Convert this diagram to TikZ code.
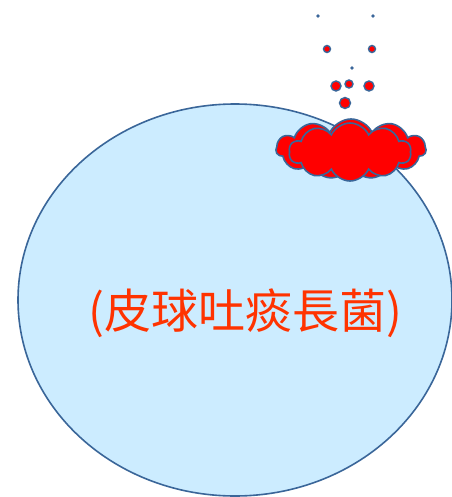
\documentclass[tikz,border=0pt]{standalone}
\usepackage{fontspec}
\newfontfamily\cjk{Noto Sans CJK TC}
\usetikzlibrary{shapes.symbols}
\definecolor{rimblue}{HTML}{3A6699}
\definecolor{ballfill}{HTML}{CCECFF}
\definecolor{labelred}{HTML}{FF3300}
\tikzset{
  rim/.style={draw=rimblue, line width=1.6pt},
  puff/.style={cloud, cloud puffs=11, cloud puff arc=130, cloud ignores aspect,
    inner sep=0pt, draw=rimblue, line width=1.6pt, fill=red},
  drop/.style={circle, inner sep=0pt, draw=rimblue, line width=1.4pt, fill=red},
  speck/.style={circle, inner sep=0pt, fill=rimblue, minimum size=3.8pt},
}
\begin{document}
\begin{tikzpicture}[x=1pt, y=-1pt]
  \useasboundingbox (0,0) rectangle (451,497);
  % the ball
  \draw[rim, fill=ballfill] (235,300) ellipse [x radius=217, y radius=196];
  \node[font=\cjk\fontsize{47}{54}\selectfont, text=labelred] (label) at (245,313) {(皮球吐痰長菌)};
  % sputum on top of the ball
  \node[puff, minimum width=150pt, minimum height=60pt] (spitA) at (351,149) {};
  \node[puff, minimum width=122pt, minimum height=58pt, cloud puffs=10] (spitB) at (350,152) {};
  % droplets flying off
  \node[drop, minimum size=11pt] (d1) at (345,103) {};
  \node[drop, minimum size=10pt] (d2) at (336,86) {};
  \node[drop, minimum size=8pt] (d3) at (349,84) {};
  \node[drop, minimum size=10pt] (d4) at (369,86) {};
  \node[drop, minimum size=7pt] (d5) at (327,49) {};
  \node[drop, minimum size=7pt] (d6) at (372,49) {};
  \node[speck] (s1) at (352,68) {};
  \node[speck] (s2) at (318,16) {};
  \node[speck] (s3) at (373,16) {};
\end{tikzpicture}
\end{document}
